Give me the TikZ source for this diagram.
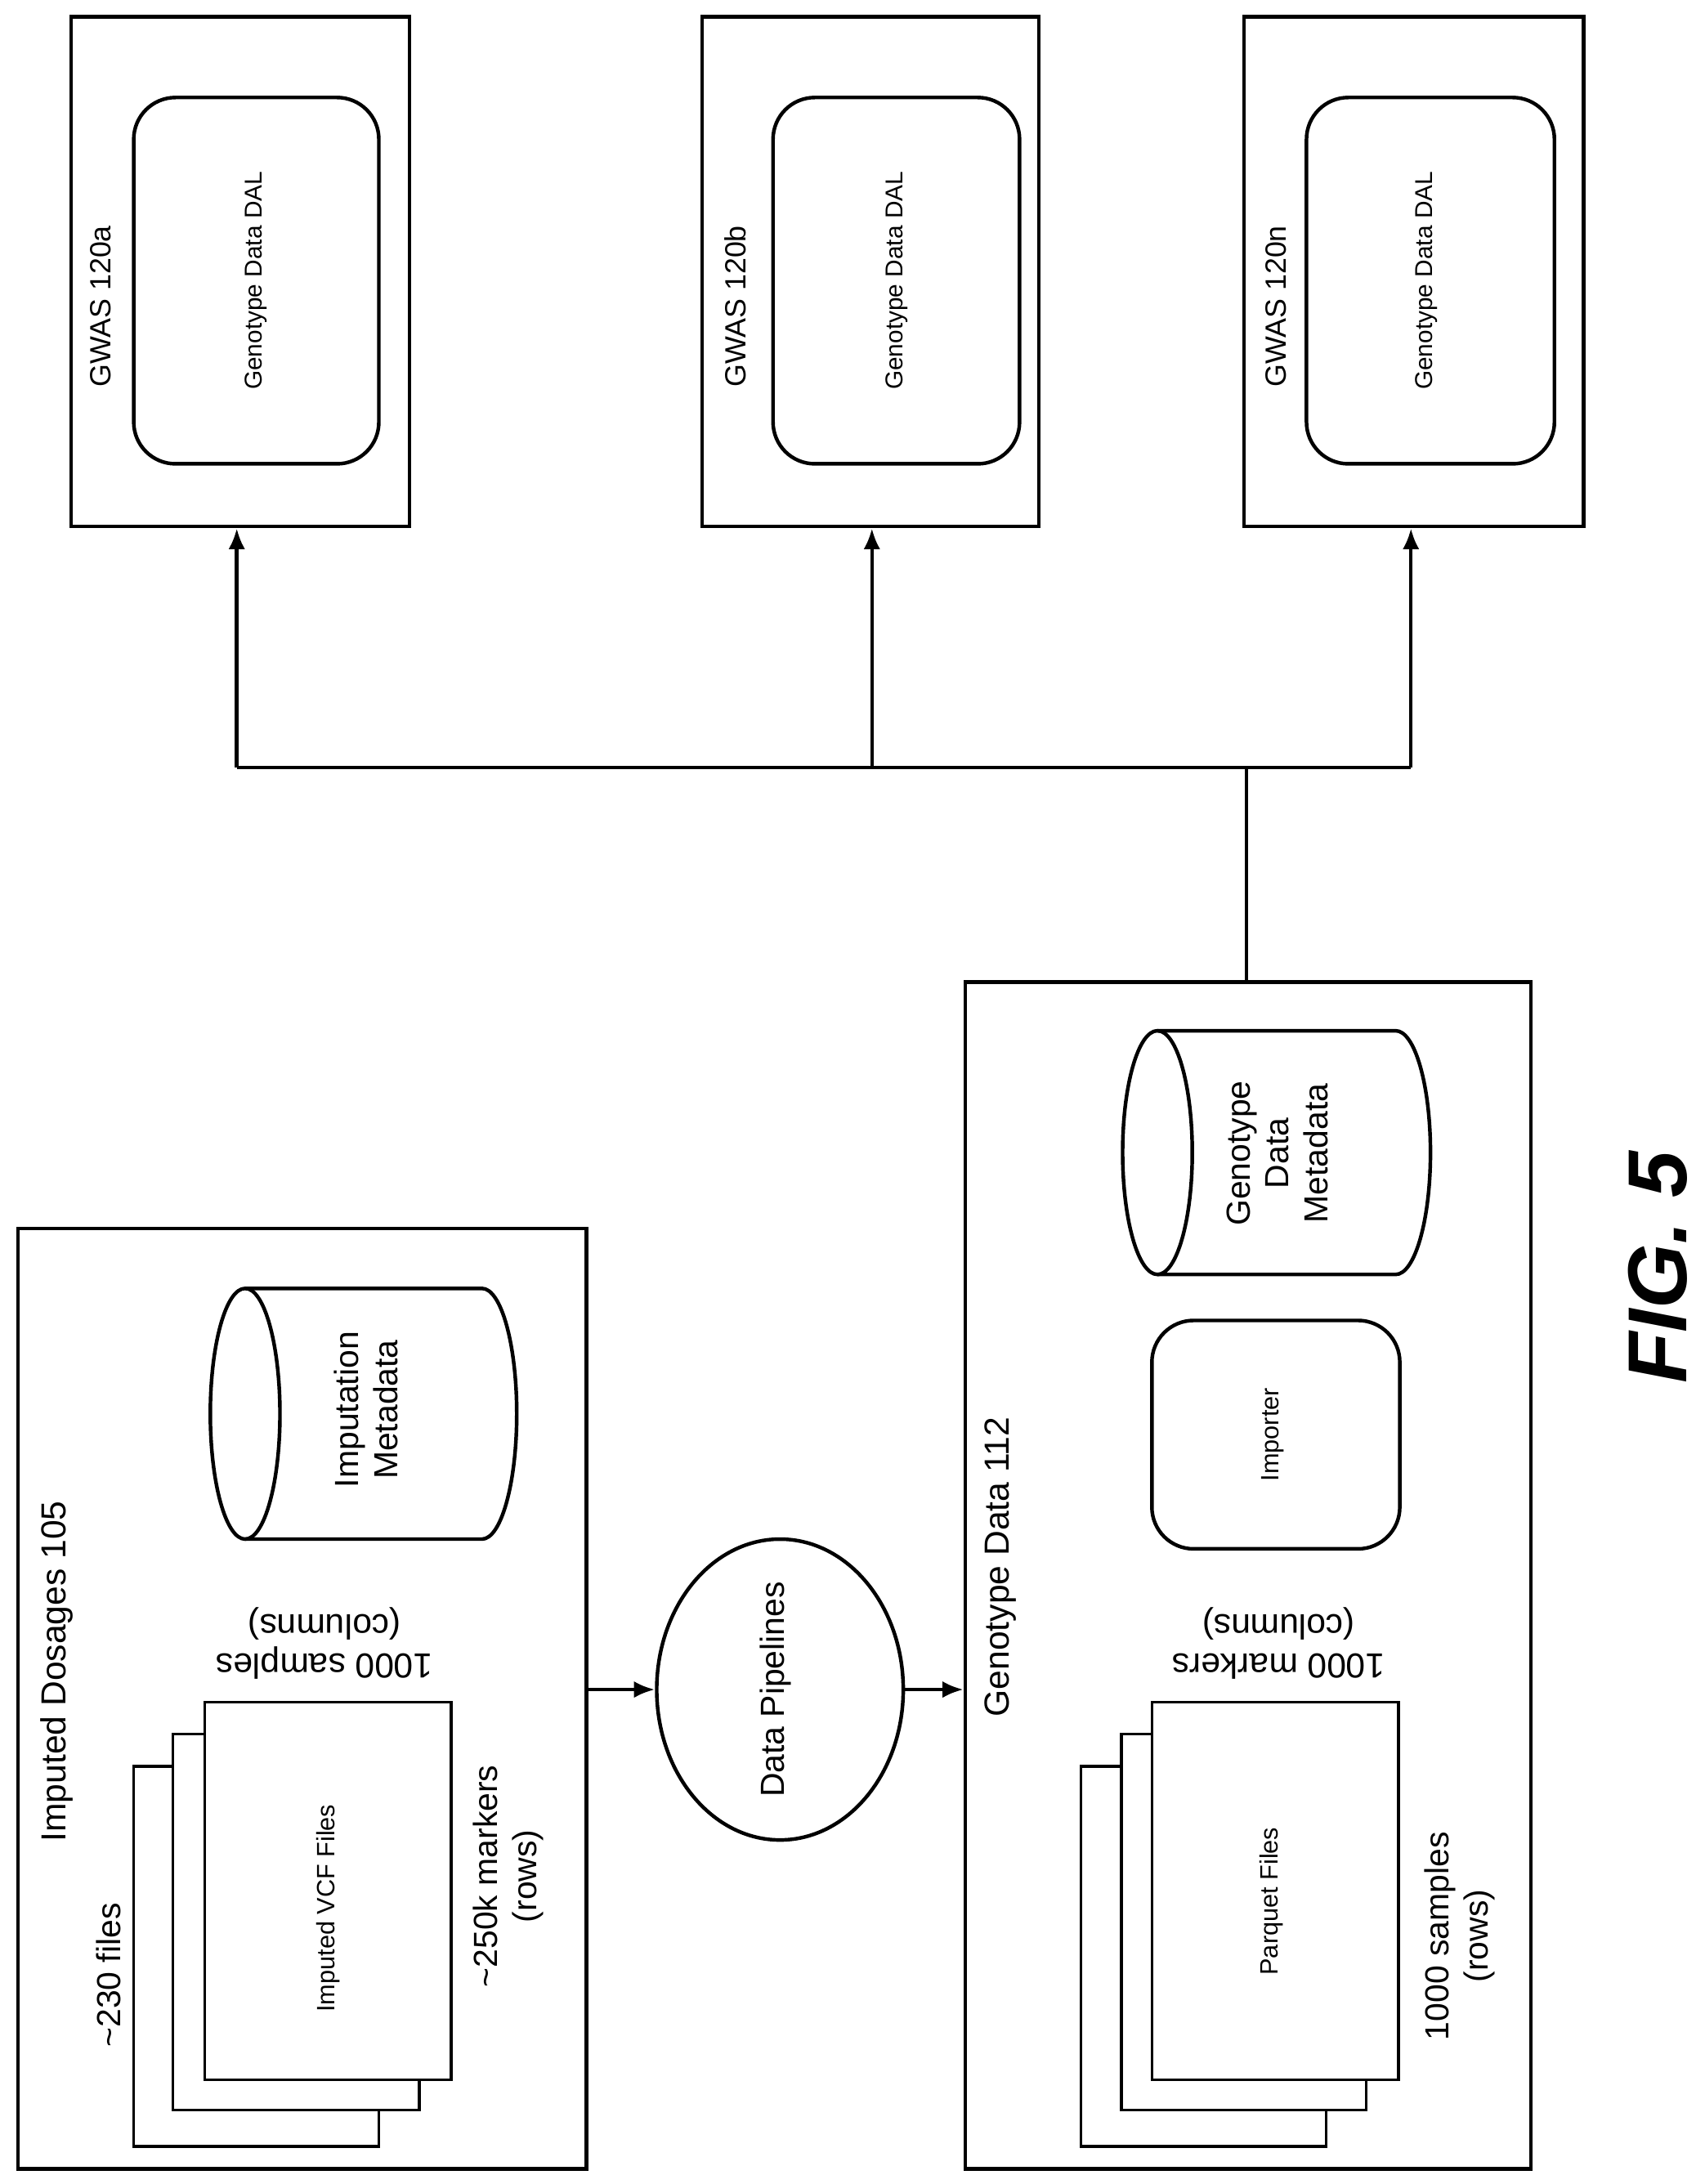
\documentclass[tikz,border=0pt]{standalone}
\usepackage{fontspec}
\setmainfont{Liberation Sans}
\usetikzlibrary{shapes.geometric,arrows.meta}
\begin{document}
\begin{tikzpicture}[x=1pt,y=-1pt,
  box/.style={draw,line width=2.6pt,inner sep=0pt},
  rbox/.style={draw,line width=2.6pt,inner sep=0pt,rounded corners=30pt},
  page/.style={draw,line width=2pt,fill=white,inner sep=0pt},
  lbl/.style={rotate=90,align=center,inner sep=0pt},
  arr/.style={line width=2.6pt,-{Latex[length=15pt,width=12pt]}},
  ln/.style={line width=2.6pt},
  cyl/.style={line width=2.6pt}]
\useasboundingbox (0,0) rectangle (1224,1568);
% GWAS boxes
\node[box,minimum width=243pt,minimum height=366pt] (ga) at (172.5,195) {};
\node[box,minimum width=242pt,minimum height=366pt] (gb) at (625,195) {};
\node[box,minimum width=244pt,minimum height=366pt] (gn) at (1015,195) {};
\node[rbox,minimum width=176pt,minimum height=263pt] (da) at (184,201.5) {};
\node[rbox,minimum width=177pt,minimum height=263pt] (db) at (643.5,201.5) {};
\node[rbox,minimum width=178pt,minimum height=263pt] (dn) at (1027,201.5) {};
\node[lbl,font=\fontsize{21}{25}\selectfont] (ta) at (72,220) {GWAS 120a};
\node[lbl,font=\fontsize{21}{25}\selectfont] (tb) at (528,220) {GWAS 120b};
\node[lbl,font=\fontsize{21}{25}\selectfont] (tn) at (916,220) {GWAS 120n};
\node[lbl,font=\fontsize{17.5}{20}\selectfont] (la) at (184,201.5) {Genotype Data DAL};
\node[lbl,font=\fontsize{17.5}{20}\selectfont] (lb) at (644,201.5) {Genotype Data DAL};
\node[lbl,font=\fontsize{17.5}{20}\selectfont] (ln) at (1024,201.5) {Genotype Data DAL};
% Imputed dosages
\node[box,minimum width=408pt,minimum height=675pt] (id) at (217,1219.5) {};
\node[lbl,font=\fontsize{25}{30}\selectfont] (tid) at (41,1200) {Imputed Dosages 105};
\node[page,minimum width=176pt,minimum height=273pt] (p1) at (184,1404.5) {};
\node[page,minimum width=177pt,minimum height=270pt] (p2) at (212.5,1380) {};
\node[page,minimum width=177pt,minimum height=271pt] (p3) at (235.5,1357.5) {};
\node[lbl,font=\fontsize{18}{20}\selectfont] (tvcf) at (235.5,1370) {Imputed VCF Files};
\node[lbl,font=\fontsize{24}{28}\selectfont] (tf) at (78,1418) {\textasciitilde230 files};
\node[lbl,font=\fontsize{24}{28}\selectfont] (tm) at (365,1347) {\textasciitilde250k markers\\(rows)};
\node[rotate=180,align=center,inner sep=0pt,font=\fontsize{25}{28}\selectfont] (tc) at (233,1180) {1000 samples\\(columns)};
\draw[cyl] (176,1015) ellipse[x radius=25,y radius=90];
\draw[cyl] (176,925) -- (346,925) arc[start angle=-90,end angle=90,x radius=25,y radius=90] -- (176,1105);
\node[lbl,font=\fontsize{24}{28}\selectfont] (tim) at (263,1012) {Imputation\\Metadata};
% pipelines
\node[draw,ellipse,line width=2.6pt,minimum width=177pt,minimum height=216pt,inner sep=0pt] (dp) at (560,1213) {};
\node[lbl,font=\fontsize{24}{28}\selectfont] (tdp) at (557,1213) {Data Pipelines};
% Genotype data
\node[box,minimum width=406pt,minimum height=852pt] (gd) at (896,1131) {};
\node[lbl,font=\fontsize{25}{30}\selectfont] (tgd) at (718,1125) {Genotype Data 112};
\node[page,minimum width=176pt,minimum height=273pt] (q1) at (864,1404.5) {};
\node[page,minimum width=176pt,minimum height=270pt] (q2) at (893,1380) {};
\node[page,minimum width=177pt,minimum height=271pt] (q3) at (915.5,1357.5) {};
\node[lbl,font=\fontsize{18}{20}\selectfont] (tpq) at (913,1365) {Parquet Files};
\node[lbl,font=\fontsize{24}{28}\selectfont] (trows) at (1048,1390) {1000 samples\\(rows)};
\node[rotate=180,align=center,inner sep=0pt,font=\fontsize{25}{28}\selectfont] (tmk) at (918,1180) {1000 markers\\(columns)};
\node[rbox,minimum width=178pt,minimum height=164pt] (imp) at (916,1030) {};
\node[lbl,font=\fontsize{18}{20}\selectfont] (timp) at (914,1030) {Importer};
\draw[cyl] (831,827.5) ellipse[x radius=25,y radius=87.5];
\draw[cyl] (831,740) -- (1002,740) arc[start angle=-90,end angle=90,x radius=25,y radius=87.5] -- (831,915);
\node[lbl,font=\fontsize{24}{28}\selectfont] (tgm) at (917,828) {Genotype\\Data\\Metadata};
% connectors
\draw[arr] (id.east |- dp.west) -- (dp.west);
\draw[arr] (dp.east) -- (gd.west |- dp.east);
\coordinate (j) at (895,551);
\coordinate (ja) at (170,551);
\coordinate (jb) at (626,551);
\coordinate (jn) at (1013,551);
\draw[ln] (gd.north -| j) -- (j);
\draw[ln] (ja) -- (jn);
\draw[arr] (ja) -- (ga.south -| ja);
\draw[arr] (jb) -- (gb.south -| jb);
\draw[arr] (jn) -- (gn.south -| jn);
\node[rotate=90,inner sep=0pt,font=\fontsize{60}{66}\selectfont\bfseries\itshape] (fig) at (1190,910) {FIG. 5};
\end{tikzpicture}
\end{document}
